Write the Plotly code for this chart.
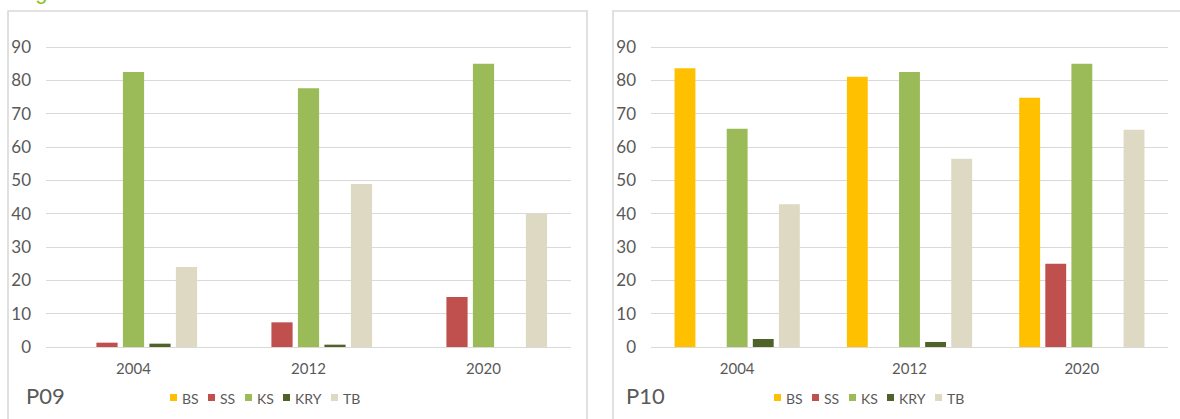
import plotly.graph_objects as go

# Survey years and land-cover classes
years = ["2004", "2012", "2020"]
series = ["BS", "SS", "KS", "KRY", "TB"]
colors = ["#FFC000", "#C0504D", "#9BBB59", "#4F6228", "#DDD9C3"]

# Plot P09 (%)
p09_bs = [0, 0, 0]
p09_ss = [1.3, 7.4, 15.0]
p09_ks = [82.5, 77.6, 85.0]
p09_kry = [1.0, 0.7, 0]
p09_tb = [24.0, 48.9, 40.0]

# Plot P10 (%)
p10_bs = [83.6, 81.1, 74.8]
p10_ss = [0, 0, 25.0]
p10_ks = [65.5, 82.5, 85.0]
p10_kry = [2.4, 1.5, 0]
p10_tb = [42.8, 56.5, 65.2]

y_ticks = list(range(0, 100, 10))

W, H = 1180, 419
FONT = "Lato, Liberation Sans, sans-serif"
GREY = "#595959"
GRID = "#D9D9D9"


def px(x):
    return x / W


def py(y):
    return 1 - y / H


panels = [
    dict(name="P09", data=[p09_bs, p09_ss, p09_ks, p09_kry, p09_tb],
         xa="x", ya="y", frame=(8, 587), plot=(46, 571), label_x=26, legend_x=170),
    dict(name="P10", data=[p10_bs, p10_ss, p10_ks, p10_kry, p10_tb],
         xa="x2", ya="y2", frame=(613, 1200), plot=(651, 1168), label_x=626, legend_x=774),
]

fig = go.Figure()
for p in panels:
    for s, c, vals in zip(series, colors, p["data"]):
        fig.add_trace(go.Bar(
            x=years, y=vals, name=s, marker=dict(color=c, line=dict(width=0)),
            xaxis=p["xa"], yaxis=p["ya"], showlegend=False,
        ))

axis_common_x = dict(
    type="category", showgrid=False, showline=False, zeroline=False, ticks="",
    automargin=False,
    tickfont=dict(family=FONT, size=15, color=GREY), ticklabelstandoff=11,
)
axis_common_y = dict(
    range=[0, 100], tickvals=y_ticks, showgrid=True, gridcolor=GRID, gridwidth=1,
    zeroline=True, zerolinecolor=GRID, zerolinewidth=1, showline=False, ticks="",
    automargin=False,
    tickfont=dict(family=FONT, size=17, color=GREY), ticklabelstandoff=14,
)

ydom = [py(347), py(13.7)]
fig.update_layout(
    xaxis=dict(domain=[px(panels[0]["plot"][0]), px(panels[0]["plot"][1])], anchor="y", **axis_common_x),
    yaxis=dict(domain=ydom, anchor="x", **axis_common_y),
    xaxis2=dict(domain=[px(panels[1]["plot"][0]), px(panels[1]["plot"][1])], anchor="y2", **axis_common_x),
    yaxis2=dict(domain=ydom, anchor="x2", **axis_common_y),
)

shapes = []
annotations = []
legend_offsets = [0, 38, 75, 113, 161]
for p in panels:
    # panel frame
    x0, x1 = p["frame"]
    shapes.append(dict(type="rect", xref="paper", yref="paper",
                       x0=px(x0), x1=px(x1), y0=py(440), y1=py(11),
                       line=dict(color=GRID, width=1.6), fillcolor="rgba(0,0,0,0)", layer="below"))
    # panel label
    annotations.append(dict(text=p["name"], xref="paper", yref="paper",
                            x=px(p["label_x"] - 2), y=py(395), xanchor="left", yanchor="middle",
                            showarrow=False, font=dict(family=FONT, size=22, color=GREY)))
    # legend
    for s, c, off in zip(series, colors, legend_offsets):
        lx = p["legend_x"] + off
        shapes.append(dict(type="rect", xref="paper", yref="paper",
                           x0=px(lx), x1=px(lx + 7), y0=py(401), y1=py(394),
                           line=dict(width=0), fillcolor=c))
        annotations.append(dict(text=s, xref="paper", yref="paper",
                                x=px(lx + 10), y=py(398), xanchor="left", yanchor="middle",
                                showarrow=False, font=dict(family=FONT, size=14, color=GREY)))

# figure caption running off the top edge
annotations.append(dict(text="Fig", xref="paper", yref="paper", x=px(15), y=py(6),
                        xanchor="left", yanchor="bottom", showarrow=False,
                        font=dict(family="Liberation Sans, sans-serif", size=22, color="#8DC21F")))

fig.update_layout(
    width=W, height=H, margin=dict(l=0, r=0, t=0, b=0, autoexpand=False),
    paper_bgcolor="white", plot_bgcolor="white",
    barmode="group", bargap=0.243, bargroupgap=0.2,
    shapes=shapes, annotations=annotations, showlegend=False,
    font=dict(family=FONT, color=GREY),
)

fig.write_html("out.html")
